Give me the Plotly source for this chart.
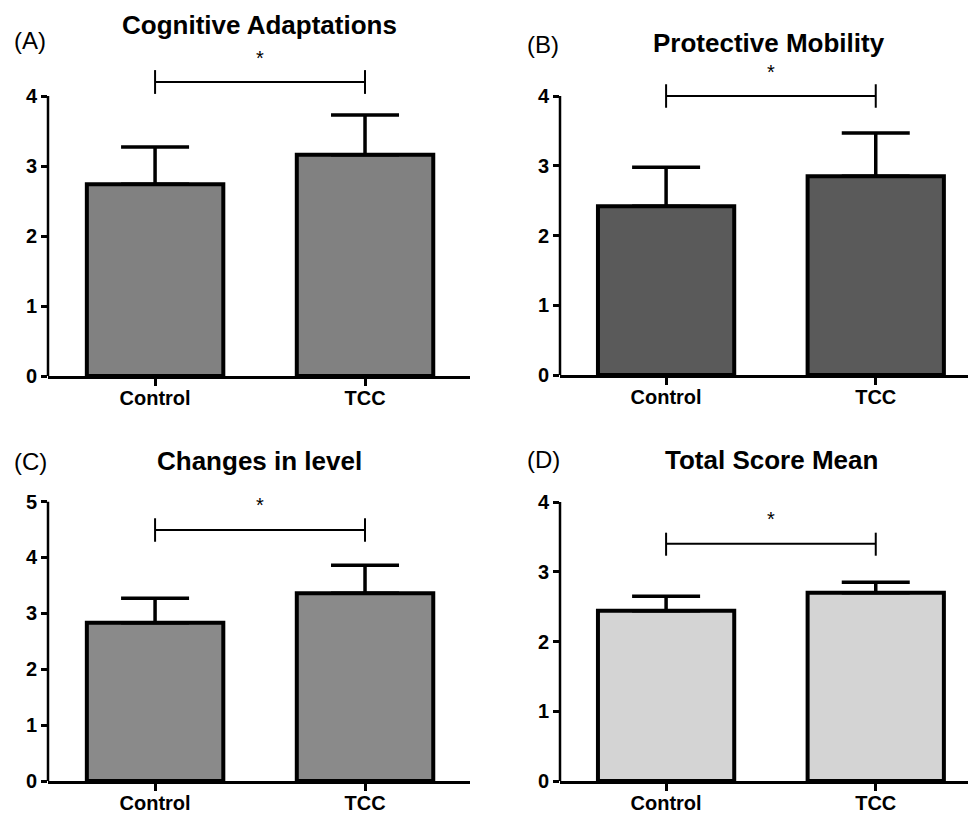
import plotly.graph_objects as go

# ---------------- data ----------------
groups = ["Control", "TCC"]
panel_titles = ["Cognitive Adaptations", "Protective Mobility", "Changes in level", "Total Score Mean"]
panel_labels = ["(A)", "(B)", "(C)", "(D)"]

cognitive_mean = [2.74, 3.16]
cognitive_sem = [0.53, 0.57]
protective_mean = [2.42, 2.85]
protective_sem = [0.56, 0.62]
level_mean = [2.83, 3.36]
level_sem = [0.44, 0.50]
total_mean = [2.44, 2.70]
total_sem = [0.21, 0.15]

yticks_A = [0, 1, 2, 3, 4]
yticks_B = [0, 1, 2, 3, 4]
yticks_C = [0, 1, 2, 3, 4, 5]
yticks_D = [0, 1, 2, 3, 4]
significance = ["*", "*", "*", "*"]

# ---------------- layout geometry (pixels) ----------------
W, H = 968, 815
FONT = "Liberation Sans, Arial, sans-serif"

panels = [
    dict(mean=cognitive_mean, err=cognitive_sem, ticks=yticks_A, color="#818181",
         xpx=(48, 470), zero=376, scale=70.0, top=4.6, xr=[-0.51, 1.5],
         br=4.2, br_lo=4.03, br_hi=4.37, star=4.55,
         title_px=(259, 25), label_px=(30, 40)),
    dict(mean=protective_mean, err=protective_sem, ticks=yticks_B, color="#5a5a5a",
         xpx=(560, 968), zero=375, scale=69.75, top=4.5, xr=[-0.506, 1.44],
         br=4.0, br_lo=3.83, br_hi=4.17, star=4.35,
         title_px=(769, 43), label_px=(543, 44)),
    dict(mean=level_mean, err=level_sem, ticks=yticks_C, color="#8a8a8a",
         xpx=(48, 470), zero=781, scale=55.9, top=5.0, xr=[-0.51, 1.5],
         br=4.49, br_lo=4.28, br_hi=4.70, star=4.93,
         title_px=(259, 461), label_px=(30, 462)),
    dict(mean=total_mean, err=total_sem, ticks=yticks_D, color="#d4d4d4",
         xpx=(560, 968), zero=781, scale=69.75, top=4.0, xr=[-0.506, 1.44],
         br=3.40, br_lo=3.23, br_hi=3.56, star=3.75,
         title_px=(771, 460), label_px=(543, 460)),
]

fig = go.Figure()
shapes = []
annotations = []

for i, p in enumerate(panels):
    n = "" if i == 0 else str(i + 1)
    xname, yname = "x" + n, "y" + n
    fig.add_trace(go.Bar(
        x=groups, y=p["mean"], xaxis=xname, yaxis=yname,
        width=0.65,
        marker=dict(color=p["color"], line=dict(color="black", width=4)),
        error_y=dict(type="data", symmetric=False, array=p["err"], arrayminus=[0, 0],
                     color="black", thickness=3.5, width=34),
        showlegend=False, hoverinfo="x+y",
    ))
    ydom = [1 - p["zero"] / H, 1 - (p["zero"] - p["scale"] * p["top"]) / H]
    xdom = [p["xpx"][0] / W, p["xpx"][1] / W]
    tickfont = dict(family=FONT, size=20, color="black", weight="bold")
    fig.layout["xaxis" + n] = dict(
        domain=xdom, anchor=yname, type="category", range=p["xr"],
        showline=True, linecolor="black", linewidth=2.5,
        ticks="outside", ticklen=7, tickwidth=2.5, tickcolor="black",
        ticklabelstandoff=-5,
        showgrid=False, zeroline=False, tickfont=tickfont, fixedrange=True,
        automargin=False,
    )
    fig.layout["yaxis" + n] = dict(
        domain=ydom, anchor=xname, range=[0, p["top"]],
        tickvals=p["ticks"], ticktext=[str(t) for t in p["ticks"]],
        showline=False, ticks="outside", ticklen=6, tickwidth=2.5, tickcolor="black",
        showgrid=False, zeroline=False, tickfont=tickfont, fixedrange=True,
        automargin=False,
    )
    # y axis line stopping at the top tick
    shapes.append(dict(type="line", xref=xname + " domain", yref=yname,
                       x0=0, x1=0, y0=0, y1=max(p["ticks"]),
                       line=dict(color="black", width=2.5), layer="above"))
    # significance bracket
    shapes.append(dict(type="line", xref=xname, yref=yname, x0=0, x1=1,
                       y0=p["br"], y1=p["br"], line=dict(color="black", width=2)))
    for xc in (0, 1):
        shapes.append(dict(type="line", xref=xname, yref=yname, x0=xc, x1=xc,
                           y0=p["br_lo"], y1=p["br_hi"], line=dict(color="black", width=2)))
    annotations.append(dict(text=significance[i], xref=xname, yref=yname, x=0.5, y=p["star"],
                            showarrow=False, xanchor="center", yanchor="middle",
                            font=dict(family=FONT, size=20, color="black")))
    # title and panel label
    annotations.append(dict(text="<b>" + panel_titles[i] + "</b>", xref="paper", yref="paper",
                            x=p["title_px"][0] / W, y=1 - p["title_px"][1] / H,
                            showarrow=False, xanchor="center", yanchor="middle",
                            font=dict(family=FONT, size=26, color="black")))
    annotations.append(dict(text=panel_labels[i], xref="paper", yref="paper",
                            x=p["label_px"][0] / W, y=1 - p["label_px"][1] / H,
                            showarrow=False, xanchor="center", yanchor="middle",
                            font=dict(family=FONT, size=24, color="black")))

fig.update_layout(
    width=W, height=H,
    margin=dict(l=0, r=0, t=0, b=0, autoexpand=False),
    paper_bgcolor="white", plot_bgcolor="white",
    shapes=shapes, annotations=annotations,
    bargap=0.35,
)

fig.write_html("out.html", config={"displayModeBar": False},
               post_script="document.body.style.margin='0';")
